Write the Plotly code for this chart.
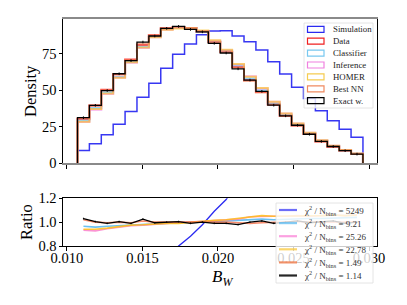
import numpy as np
import plotly.graph_objects as go

# ---------------- data ----------------
bin_lo, bin_hi, n_bins = 0.0107, 0.0296, 24

data_hist = [30.3, 39.5, 50.3, 61.0, 71.0, 81.0, 87.6, 92.4, 93.3, 92.6, 90.0, 83.0,
             76.3, 66.0, 57.0, 48.8, 40.2, 32.5, 25.8, 20.0, 15.0, 11.4, 8.7, 6.3]
sim_hist = [8.8, 13.3, 19.5, 26.8, 35.5, 45.2, 54.8, 65.0, 74.6, 81.6, 88.0, 90.6,
            90.8, 87.2, 83.3, 77.6, 69.6, 61.2, 52.0, 44.3, 36.0, 29.2, 23.3, 17.8]

ratio_exact = [1.03, 1.005, 0.99, 1.005, 0.99, 1.025, 0.995, 1.0, 1.005, 0.99, 1.0, 0.99,
               0.99, 0.98, 1.0, 1.01, 0.99, 1.0, 1.01, 0.995, 1.0, 1.01, 0.99, 1.0]
ratio_bestnn = [1.02, 1.0, 0.995, 1.0, 0.995, 1.01, 1.0, 1.0, 1.0, 1.0, 1.005, 1.0,
                1.0, 0.995, 0.99, 0.995, 1.0, 1.0, 1.005, 1.0, 1.0, 1.005, 1.0, 1.0]
ratio_classifier = [0.965, 0.958, 0.965, 0.97, 0.98, 0.985, 0.99, 0.995, 0.995, 1.0, 1.0, 1.005,
                    1.01, 1.015, 1.02, 1.025, 1.02, 1.025, 1.03, 1.03, 1.03, 1.035, 1.035, 1.04]
ratio_inference = [0.933, 0.927, 0.945, 0.96, 0.97, 0.975, 0.985, 0.99, 0.995, 1.0, 1.005, 1.01,
                   1.015, 1.025, 1.045, 1.05, 1.05, 1.05, 1.055, 1.05, 1.055, 1.06, 1.055, 1.06]
ratio_homer = [0.94, 0.94, 0.95, 0.96, 0.975, 0.978, 0.985, 0.99, 0.99, 1.0, 1.01, 1.015,
               1.02, 1.03, 1.04, 1.055, 1.05, 1.05, 1.055, 1.05, 1.055, 1.06, 1.055, 1.06]

hist_labels = ["Simulation", "Data", "Classifier", "Inference", "HOMER", "Best NN", "Exact w."]
chi2_labels = ["5249", "9.21", "25.26", "22.78", "1.49", "1.14"]

x_ticks = [0.010, 0.015, 0.020, 0.025, 0.030]
y_ticks_top = [0, 25, 50, 75]
y_ticks_bot = [0.8, 1.0, 1.2]

# ---------------- helpers ----------------
# page body has an 8px margin; the figure is sized to fit inside the 407x305 window
OFF = 8
W, H = 407 - 2 * OFF, 305 - 2 * OFF
FONT = "Liberation Serif"
edges = np.linspace(bin_lo, bin_hi, n_bins + 1)
centers = 0.5 * (edges[:-1] + edges[1:])
data_arr = np.array(data_hist)


def step_xy(vals):
    xs = [edges[0]]
    ys = [0]
    for i, v in enumerate(vals):
        xs += [edges[i], edges[i + 1]]
        ys += [v, v]
    xs.append(edges[-1])
    ys.append(0)
    return xs, ys


def px(x):
    return (x - OFF) / W


def py(y):
    return 1 - (y - OFF) / H


col = {
    "Simulation": "rgba(20,20,240,0.85)",
    "Data": "rgba(255,30,30,0.8)",
    "Classifier": "rgba(110,195,245,0.75)",
    "Inference": "rgba(245,120,220,0.6)",
    "HOMER": "rgba(250,195,40,0.65)",
    "Best NN": "rgba(240,120,80,0.6)",
    "Exact w.": "rgba(0,0,0,1)",
}
legcol = {
    "Simulation": "#2a2af0",
    "Data": "#f02020",
    "Classifier": "#78c8f0",
    "Inference": "#f080e0",
    "HOMER": "#f5cc50",
    "Best NN": "#f08a60",
    "Exact w.": "#000000",
}

hists = {
    "Simulation": np.array(sim_hist),
    "Data": data_arr,
    "Classifier": data_arr * np.array(ratio_classifier),
    "Inference": data_arr * np.array(ratio_inference),
    "HOMER": data_arr * np.array(ratio_homer),
    "Best NN": data_arr * np.array(ratio_bestnn),
    "Exact w.": data_arr * np.array(ratio_exact),
}
widths = {"Simulation": 1.5, "Data": 2.0, "Classifier": 2.0, "Inference": 2.0,
          "HOMER": 2.0, "Best NN": 2.0, "Exact w.": 1.3}

fig = go.Figure()
for name in hist_labels:
    xs, ys = step_xy(hists[name])
    fig.add_trace(go.Scatter(x=xs, y=ys, mode="lines", line=dict(color=col[name], width=widths[name]),
                             xaxis="x", yaxis="y", showlegend=False, hoverinfo="skip"))
# error ticks on exact
fig.add_trace(go.Scatter(x=centers, y=hists["Exact w."], mode="markers", marker=dict(size=0.1, color="black"),
                         error_y=dict(type="constant", value=0.9, width=0, thickness=1, color="black"),
                         xaxis="x", yaxis="y", showlegend=False, hoverinfo="skip"))

# ratio panel
ratios = [
    ("Simulation", np.array(sim_hist) / data_arr, "rgba(20,20,240,0.9)", 1.3),
    ("Classifier", np.array(ratio_classifier), "rgba(90,185,240,0.9)", 1.6),
    ("Inference", np.array(ratio_inference), "rgba(250,120,200,0.8)", 1.6),
    ("HOMER", np.array(ratio_homer), "rgba(255,190,20,0.85)", 1.6),
    ("Best NN", np.array(ratio_bestnn), "rgba(245,110,70,0.8)", 1.6),
    ("Exact w.", np.array(ratio_exact), "rgba(0,0,0,1)", 1.3),
]
for name, r, c, w in ratios:
    fig.add_trace(go.Scatter(x=centers, y=r, mode="lines", line=dict(color=c, width=w),
                             xaxis="x2", yaxis="y2", showlegend=False, hoverinfo="skip"))
fig.add_trace(go.Scatter(x=centers, y=ratio_exact, mode="markers", marker=dict(size=0.1, color="black"),
                         error_y=dict(type="constant", value=0.007, width=0, thickness=1, color="black"),
                         xaxis="x2", yaxis="y2", showlegend=False, hoverinfo="skip"))

xdom = [px(63), px(377)]
xr = [0.00974, 0.03053]
tickfont = dict(family=FONT, size=14.5, color="black")

fig.update_layout(
    width=W, height=H, margin=dict(l=0, r=0, t=0, b=0, autoexpand=False),
    paper_bgcolor="white", plot_bgcolor="white",
    showlegend=False,
    xaxis=dict(domain=xdom, range=xr, tickvals=x_ticks, showticklabels=False, ticks="outside",
               ticklen=3.5, tickcolor="black", showline=True, linecolor="#8a8a8a", linewidth=2,
               mirror=True, showgrid=False, zeroline=False, anchor="y", automargin=False),
    yaxis=dict(domain=[py(163.3), py(19)], range=[0, 98.8], tickvals=y_ticks_top, ticks="outside",
               ticklen=3.5, tickcolor="black", showline=True, linecolor="black", linewidth=1,
               mirror=True, showgrid=False, zeroline=False, tickfont=tickfont, anchor="x",
               automargin=False, ticklabelstandoff=-1),
    xaxis2=dict(domain=xdom, range=xr, tickvals=x_ticks, ticktext=[f"{v:.3f}" for v in x_ticks],
                ticks="outside", ticklen=3.5, tickcolor="black", showline=True, linecolor="black",
                linewidth=1, mirror=True, showgrid=False, zeroline=False, tickfont=tickfont, anchor="y2",
                automargin=False, ticklabelstandoff=-5),
    yaxis2=dict(domain=[py(246), py(198.3)], range=[0.8, 1.2], tickvals=y_ticks_bot,
                ticktext=[f"{v:.1f}" for v in y_ticks_bot], ticks="outside", ticklen=3.5,
                tickcolor="black", showline=True, linecolor="black", linewidth=1, mirror=True,
                showgrid=False, zeroline=False, tickfont=tickfont, anchor="x2", automargin=False,
                ticklabelstandoff=-1),
)

shapes = []
annotations = []
# axis titles
annotations.append(dict(x=px(31), y=py(91), xref="paper", yref="paper", text="Density", textangle=-90,
                        xanchor="center", yanchor="middle",
                        showarrow=False, font=dict(family=FONT, size=16.5, color="black")))
annotations.append(dict(x=px(26), y=py(222), xref="paper", yref="paper", text="Ratio", textangle=-90,
                        xanchor="center", yanchor="middle",
                        showarrow=False, font=dict(family=FONT, size=16.5, color="black")))
annotations.append(dict(x=px(222), y=py(278), xref="paper", yref="paper", text="<i>B</i><sub><i>W</i></sub>",
                        xanchor="center", yanchor="middle",
                        showarrow=False, font=dict(family=FONT, size=17, color="black")))

# top legend
shapes.append(dict(type="rect", xref="paper", yref="paper", x0=px(304), x1=px(373), y0=py(108), y1=py(23),
                   fillcolor="rgba(255,255,255,0.8)", line=dict(color="#dddddd", width=0.8), layer="above"))
for i, name in enumerate(hist_labels):
    yc = 29.3 + i * 11.9
    shapes.append(dict(type="rect", xref="paper", yref="paper", x0=px(307.5), x1=px(324), y0=py(yc + 3),
                       y1=py(yc - 3), line=dict(color=legcol[name], width=1.2), layer="above"))
    annotations.append(dict(x=px(331), y=py(yc), xref="paper", yref="paper", text=name, xanchor="left",
                            yanchor="middle", showarrow=False, font=dict(family=FONT, size=8.8, color="#222")))

# ratio legend
shapes.append(dict(type="rect", xref="paper", yref="paper", x0=px(276), x1=px(373), y0=py(283), y1=py(203),
                   fillcolor="rgba(255,255,255,0.8)", line=dict(color="#dddddd", width=0.8), layer="above"))
rleg_cols = ["rgba(60,60,245,0.75)", "rgba(90,185,240,0.75)", "rgba(250,130,215,0.75)",
             "rgba(250,200,60,0.75)", "rgba(240,120,70,0.8)", "rgba(0,0,0,0.85)"]
for i, lab in enumerate(chi2_labels):
    yc = 210 + i * 13.1
    shapes.append(dict(type="line", xref="paper", yref="paper", x0=px(279), x1=px(297), y0=py(yc), y1=py(yc),
                       line=dict(color=rleg_cols[i], width=2.2), layer="above"))
    annotations.append(dict(x=px(301.5), y=py(yc), xref="paper", yref="paper",
                            text=f"χ<sup>2</sup> / N<sub>bins</sub> = {lab}", xanchor="left",
                            yanchor="middle", showarrow=False, font=dict(family=FONT, size=9, color="#333")))

fig.update_layout(shapes=shapes, annotations=annotations)
fig.write_html("out.html")
